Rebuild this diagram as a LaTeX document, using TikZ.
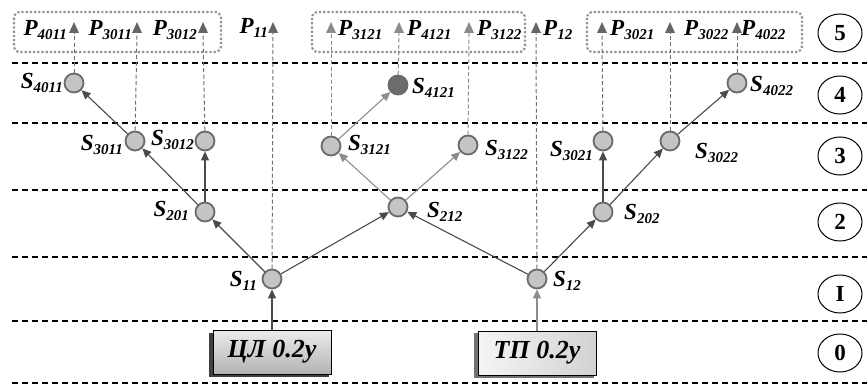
\documentclass[tikz,border=0pt]{standalone}
\usepackage{fontspec}
\setmainfont{Liberation Serif}
\usetikzlibrary{arrows.meta,shapes.geometric,shadows}
\newcommand\lbl[2]{\fontsize{23}{23}\selectfont\bfseries\itshape #1\raisebox{-4pt}{\fontsize{15}{15}\selectfont #2}}
\definecolor{edgedark}{HTML}{4A4A4A}
\definecolor{edgelight}{HTML}{8C8C8C}
\definecolor{nodefill}{HTML}{C4C4C4}
\definecolor{nodedraw}{HTML}{6A6A6A}
\tikzset{
  snode/.style={circle,minimum size=19pt,inner sep=0pt,fill=nodefill,draw=nodedraw,line width=1.8pt},
  lab/.style={inner sep=0pt},
  arr/.style={draw=edgedark,line width=1.1pt,-{Triangle[length=9pt,width=8pt]}},
  arrl/.style={draw=edgelight,line width=1.1pt,-{Triangle[length=9pt,width=8pt]}},
  vd/.style={draw=edgedark!80,line width=1pt,dash pattern=on 4pt off 2.5pt},
  vdl/.style={draw=edgelight,line width=1pt,dash pattern=on 4pt off 2.5pt},
  hline/.style={draw=black,line width=1.1pt,dash pattern=on 6pt off 4pt},
  grp/.style={draw=gray!85,line width=2.2pt,dotted,rounded corners=6pt},
  lvl/.style={ellipse,draw=black,line width=1pt,minimum width=44pt,minimum height=38pt,inner sep=0pt,font=\fontsize{23}{23}\selectfont\bfseries},
  src/.style={draw=black,line width=1pt,minimum width=118pt,minimum height=44pt,inner sep=0pt,font=\fontsize{26}{26}\selectfont\bfseries\itshape},
}
\begin{document}
\begin{tikzpicture}[x=1pt,y=-1pt]
\useasboundingbox (0,0) rectangle (867,385);
% horizontal dashed level lines
\foreach \yy/\nm in {63/h5,123/h4,190/h3,257/h2,321/h1,383/h0}{
  \coordinate (\nm a) at (12,\yy); \coordinate (\nm b) at (867,\yy);
  \draw[hline] (\nm a) -- (\nm b);
}
% level markers
\node[lvl] (c5) at (840,33) {5};
\node[lvl] (c4) at (840,95) {4};
\node[lvl] (c3) at (840,156) {3};
\node[lvl] (c2) at (840,222) {2};
\node[lvl] (c1) at (840,294) {I};
\node[lvl] (c0) at (840,353) {0};
% dotted groups
\draw[grp] (14,12) rectangle (221,52);
\draw[grp] (312,12) rectangle (525,52);
\draw[grp] (587,12) rectangle (802,52);
% source boxes
\fill[black!75] (209,333) rectangle (329,377);
\node[src,left color=gray!15,right color=gray!60,shading angle=0] (cl) at (272,352) {ЦЛ 0.2y};
\fill[black!55] (474,333) rectangle (594,378);
\node[src,left color=gray!8,right color=gray!35] (tp) at (537,353) {ТП 0.2y};
% state nodes
\node[snode] (s11) at (272,279) {};
\node[snode] (s12) at (537,279) {};
\node[snode] (s201) at (205,212) {};
\node[snode] (s212) at (398,207) {};
\node[snode] (s202) at (603,212) {};
\node[snode] (s3011) at (135,141) {};
\node[snode] (s3012) at (205,141) {};
\node[snode] (s3121) at (331,146) {};
\node[snode] (s3122) at (468,145) {};
\node[snode] (s3021) at (603,141) {};
\node[snode] (s3022) at (670,141) {};
\node[snode] (s4011) at (74,83) {};
\node[snode,fill=gray!85!black] (s4121) at (398,85) {};
\node[snode] (s4022) at (737,83) {};
% state labels
\node[lab,anchor=east] (ls11) at (257,281) {\lbl{S}{11}};
\node[lab,anchor=west] (ls12) at (553,281) {\lbl{S}{12}};
\node[lab,anchor=east] (ls201) at (189,211) {\lbl{S}{201}};
\node[lab,anchor=west] (ls212) at (427,212) {\lbl{S}{212}};
\node[lab,anchor=west] (ls202) at (624,214) {\lbl{S}{202}};
\node[lab,anchor=east] (ls3011) at (123,145) {\lbl{S}{3011}};
\node[lab,anchor=east] (ls3012) at (194,140) {\lbl{S}{3012}};
\node[lab,anchor=west] (ls3121) at (348,145) {\lbl{S}{3121}};
\node[lab,anchor=west] (ls3122) at (485,150) {\lbl{S}{3122}};
\node[lab,anchor=east] (ls3021) at (593,151) {\lbl{S}{3021}};
\node[lab,anchor=west] (ls3022) at (695,153) {\lbl{S}{3022}};
\node[lab,anchor=east] (ls4011) at (63,83) {\lbl{S}{4011}};
\node[lab,anchor=west] (ls4121) at (412,88) {\lbl{S}{4121}};
\node[lab,anchor=west] (ls4022) at (750,86) {\lbl{S}{4022}};
% P tips and their bases
\foreach \nm/\xx in {p4011/74,p3011/137,p3012/203,p11/273,p3121/331,p4121/399,p3122/469,p12/536,p3021/602,p3022/670,p4022/737}{
  \coordinate (\nm) at (\xx,22);
  \coordinate (\nm b) at (\xx,33);
}
% P labels
\node[lab,anchor=east] (lp4011) at (67,30) {\lbl{P}{4011}};
\node[lab,anchor=east] (lp3011) at (132,30) {\lbl{P}{3011}};
\node[lab,anchor=east] (lp3012) at (197,30) {\lbl{P}{3012}};
\node[lab,anchor=east] (lp11) at (268,28) {\lbl{P}{11}};
\node[lab,anchor=west] (lp3121) at (338,30) {\lbl{P}{3121}};
\node[lab,anchor=west] (lp4121) at (407,30) {\lbl{P}{4121}};
\node[lab,anchor=west] (lp3122) at (477,30) {\lbl{P}{3122}};
\node[lab,anchor=west] (lp12) at (543,30) {\lbl{P}{12}};
\node[lab,anchor=west] (lp3021) at (610,30) {\lbl{P}{3021}};
\node[lab,anchor=west] (lp3022) at (684,30) {\lbl{P}{3022}};
\node[lab,anchor=west] (lp4022) at (741,30) {\lbl{P}{4022}};
% vertical dashed outputs
\foreach \s/\p in {s11/p11,s12/p12,s4011/p4011,s3011/p3011,s3012/p3012,s3021/p3021,s3022/p3022,s4022/p4022}{
  \draw[vd] (\s) -- (\p b);
  \fill[edgedark!85] ([xshift=-5pt]\p b) -- ([xshift=5pt]\p b) -- (\p) -- cycle;
}
\foreach \s/\p in {s3121/p3121,s4121/p4121,s3122/p3122}{
  \draw[vdl] (\s) -- (\p b);
  \fill[edgelight] ([xshift=-5pt]\p b) -- ([xshift=5pt]\p b) -- (\p) -- cycle;
}
% transitions
\draw[arr] (cl) -- (s11);
\draw[arrl] (tp) -- (s12);
\draw[arr] (s11) -- (s201);
\draw[arr] (s11) -- (s212);
\draw[arr] (s12) -- (s212);
\draw[arr] (s12) -- (s202);
\draw[arr] (s201) -- (s3011);
\draw[arr] (s201) -- (s3012);
\draw[arrl] (s212) -- (s3121);
\draw[arrl] (s212) -- (s3122);
\draw[arr] (s202) -- (s3021);
\draw[arr] (s202) -- (s3022);
\draw[arr] (s3011) -- (s4011);
\draw[arrl] (s3121) -- (s4121);
\draw[arr] (s3022) -- (s4022);
\end{tikzpicture}
\end{document}
